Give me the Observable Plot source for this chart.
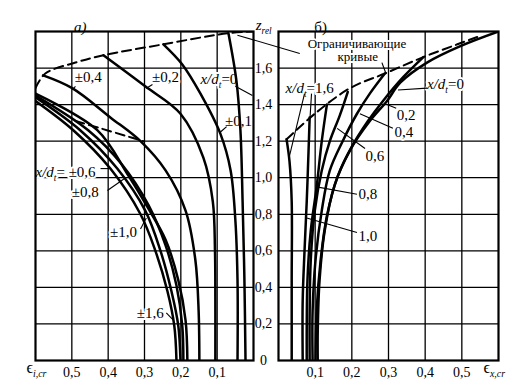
<!DOCTYPE html>
<html><head><meta charset="utf-8">
<script src="https://cdn.jsdelivr.net/npm/d3@7"></script>
<script src="https://cdn.jsdelivr.net/npm/@observablehq/plot@0.6"></script>
<style>
body{margin:0;background:#fff;}
#wrap{position:relative;width:513px;height:385px;}
#wrap svg{position:absolute;left:0;top:0;background:transparent !important;}
#wrap svg, #wrap svg text, #wrap svg g{font-family:"Liberation Serif", "DejaVu Serif", serif !important;}
</style></head><body><div id="wrap"></div>
<script>
// ---- axes ----
const zTicks = [0, 0.2, 0.4, 0.6, 0.8, 1.0, 1.2, 1.4, 1.6];
const zGrid = [0.2, 0.4, 0.6, 0.8, 1.0, 1.2, 1.4, 1.6];
const leftTicks = [0.5, 0.4, 0.3, 0.2, 0.1];
const rightTicks = [0.1, 0.2, 0.3, 0.4, 0.5];

// ---- panel а): [eps_i,cr, z_rel] ----
const L_0   = [[0.069,1.79],[0.047,1.53],[0.036,1.26],[0.030,0.87],[0.025,0.44],[0.022,0]];
const L_01  = [[0.248,1.73],[0.196,1.62],[0.146,1.46],[0.091,1.24],[0.063,1.04],[0.050,0.77],[0.044,0.44],[0.044,0]];
const L_02  = [[0.413,1.67],[0.298,1.50],[0.201,1.35],[0.138,1.11],[0.112,0.87],[0.106,0.60],[0.105,0.33],[0.105,0]];
const L_04  = [[0.579,1.56],[0.499,1.49],[0.394,1.33],[0.311,1.20],[0.242,1.04],[0.187,0.82],[0.160,0.55],[0.151,0.27],[0.149,0]];
const L_06  = [[0.600,1.46],[0.430,1.26],[0.347,1.02],[0.292,0.84],[0.242,0.66],[0.207,0.44],[0.187,0.22],[0.182,0]];
const L_08  = [[0.600,1.45],[0.455,1.26],[0.361,1.07],[0.289,0.85],[0.242,0.63],[0.212,0.41],[0.196,0.19],[0.193,0]];
const L_10  = [[0.600,1.44],[0.477,1.26],[0.375,1.05],[0.298,0.82],[0.256,0.60],[0.226,0.38],[0.207,0.19],[0.201,0]];
const L_16  = [[0.600,1.42],[0.496,1.26],[0.394,1.05],[0.311,0.80],[0.270,0.60],[0.237,0.38],[0.218,0.19],[0.212,0]];
const L_limUpper = [[0.600,1.49],[0.573,1.57],[0.490,1.63],[0.413,1.67],[0.248,1.73],[0.072,1.79],[0,1.80]];
const L_limLower = [[0.490,1.31],[0.421,1.27],[0.353,1.23],[0.303,1.20]];

const leftLabelText = ["±0,4","±0,2","x/d_{t}=0","±0,1","x/d_{t}= ±0,6","±0,8","±1,0","±1,6"];
const leftLabelV    = [0.455, 0.242, 0.146, 0.041, 0.600, 0.463, 0.358, 0.284];
const leftLabelZ    = [1.55, 1.55, 1.54, 1.31, 1.03, 0.92, 0.70, 0.26];
const leftLabelAnchor = ["middle","middle","start","middle","start","middle","middle","middle"];
const leftLeaders = [[0.490,1.50,0.499,1.48],[0.278,1.51,0.295,1.49],[0.050,1.50,0.003,1.45],[0.074,1.28,0.091,1.25],
                     [0.421,1.05,0.394,1.05],[0.402,0.93,0.352,1.00],[0.311,0.72,0.295,0.78],[0.240,0.26,0.220,0.22]];

// ---- panel б): [eps_x,cr, z_rel] ----
const R_0  = [[0.600,1.80],[0.496,1.72],[0.405,1.63],[0.332,1.52],[0.296,1.42],[0.249,1.31],[0.195,1.15],[0.153,0.96],[0.126,0.71],[0.112,0.44],[0.107,0.16],[0.107,0]];
const R_02 = [[0.395,1.66],[0.340,1.55],[0.285,1.42],[0.244,1.31],[0.200,1.17],[0.162,1.01],[0.132,0.79],[0.115,0.55],[0.104,0.27],[0.101,0]];
const R_04 = [[0.290,1.57],[0.249,1.46],[0.214,1.35],[0.175,1.20],[0.140,1.04],[0.118,0.82],[0.101,0.55],[0.093,0.27],[0.093,0]];
const R_06 = [[0.189,1.47],[0.167,1.34],[0.140,1.20],[0.118,1.04],[0.099,0.82],[0.088,0.55],[0.085,0.27],[0.085,0]];
const R_08 = [[0.132,1.40],[0.118,1.20],[0.104,0.95],[0.088,0.71],[0.079,0.44],[0.077,0]];
const R_10 = [[0.085,1.33],[0.082,1.15],[0.077,0.87],[0.071,0.60],[0.066,0.33],[0.066,0]];
const R_16 = [[0.022,1.21],[0.030,1.09],[0.036,0.87],[0.036,0.44],[0.036,0]];
const R_lim = [[0.022,1.21],[0.099,1.35],[0.195,1.49],[0.290,1.57],[0.395,1.66],[0.488,1.73],[0.542,1.77]];

const rightLabelText = ["Ограничивающие","кривые","x/d_{t}=1,6","x/d_{t}=0","0,2","0,4","0,6","0,8","1,0"];
const rightLabelV    = [0.214, 0.216, 0.085, 0.405, 0.348, 0.342, 0.263, 0.244, 0.244];
const rightLabelZ    = [1.735, 1.66, 1.49, 1.51, 1.34, 1.25, 1.12, 0.91, 0.68];
const rightLabelAnchor = ["middle","middle","middle","start","middle","middle","middle","middle","middle"];
const rightLabelSize = [13, 13, 15, 15, 15, 15, 15, 15, 15];
const rightLeaders = [[-0.112,1.78,0.058,1.68],[0.282,1.63,0.293,1.57],[0.071,1.46,0.030,1.12],[0.090,1.46,0.086,1.33],
                      [0.405,1.49,0.326,1.48],[0.321,1.38,0.296,1.40],[0.312,1.27,0.222,1.35],[0.236,1.16,0.160,1.27],
                      [0.214,0.91,0.104,0.95],[0.214,0.70,0.077,0.78]];

// ---- build tables ----
const fmt = d => d === 0 ? "0" : d3.format(".1f")(d).replace(".", ",");
const toRows = (series) => series.flatMap(([k, pts]) => pts.map(([v, z]) => ({k, v, z})));
const leftRows = toRows([["0",L_0],["0.1",L_01],["0.2",L_02],["0.4",L_04],["0.6",L_06],["0.8",L_08],["1.0",L_10],["1.6",L_16]]);
const leftDash = toRows([["u",L_limUpper],["l",L_limLower]]);
const rightRows = toRows([["0",R_0],["0.2",R_02],["0.4",R_04],["0.6",R_06],["0.8",R_08],["1.0",R_10],["1.6",R_16]]);
const rightDash = toRows([["u",R_lim]]);
const leftLabels = leftLabelText.map((t,i)=>({t, v:leftLabelV[i], z:leftLabelZ[i], a:leftLabelAnchor[i]}));
const rightLabels = rightLabelText.map((t,i)=>({t, v:rightLabelV[i], z:rightLabelZ[i], a:rightLabelAnchor[i], s:rightLabelSize[i]}));
const linkRows = arr => arr.map(([x1,y1,x2,y2])=>({x1,y1,x2,y2}));

const FONT = "Liberation Serif";
const common = {width:513, height:385, marginTop:31, marginBottom:25,
  y:{domain:[0,1.8], axis:null},
  style:{background:"transparent", fontFamily:FONT, fontSize:"14px", overflow:"visible"}};

function labelMarks(rows, size) {
  return ["start","middle"].map(a => Plot.text(rows.filter(d=>d.a===a), {
    x:"v", y:"z", text:"t", textAnchor:a, fontSize: d => d.s || size, fontFamily:FONT,
    fill:"black", stroke:"white", strokeWidth:4, paintOrder:"stroke"}));
}

const left = Plot.plot({...common, marginLeft:35, marginRight:260,
  x:{domain:[0.6,0], axis:null},
  marks:[
    Plot.ruleX(leftTicks, {stroke:"black", strokeWidth:1.3}),
    Plot.ruleY(zGrid, {stroke:"black", strokeWidth:1.3}),
    ...labelMarks(leftLabels, 15),
    Plot.line(leftRows, {x:"v", y:"z", z:"k", curve:"catmull-rom", stroke:"black", strokeWidth:2.5, clip:true}),
    Plot.line(leftDash, {x:"v", y:"z", z:"k", curve:"catmull-rom", stroke:"black", strokeWidth:2, strokeDasharray:"9,5", clip:true}),
    Plot.link(linkRows(leftLeaders), {x1:"x1", y1:"y1", x2:"x2", y2:"y2", stroke:"black", strokeWidth:1.1}),
    Plot.axisX(leftTicks, {anchor:"bottom", tickSize:0, tickPadding:7, tickFormat:fmt, fontSize:14, fontFamily:FONT}),
    Plot.text(["ϵ_{i,cr}"], {x:0.625, frameAnchor:"bottom", dy:12, textAnchor:"start", fontSize:16, fontFamily:FONT}),
    Plot.text(["а)"], {x:0.477, frameAnchor:"top", dy:-10, fontSize:15, fontStyle:"italic", fontFamily:FONT}),
    Plot.frame({stroke:"black", strokeWidth:2.2})
  ]});

const right = Plot.plot({...common, marginLeft:278, marginRight:15,
  x:{domain:[0,0.6], axis:null},
  marks:[
    Plot.ruleX(rightTicks, {stroke:"black", strokeWidth:1.3}),
    Plot.ruleY(zGrid, {stroke:"black", strokeWidth:1.3}),
    ...labelMarks(rightLabels, 15),
    Plot.line(rightRows, {x:"v", y:"z", z:"k", curve:"catmull-rom", stroke:"black", strokeWidth:2.5, clip:true}),
    Plot.line(rightDash, {x:"v", y:"z", z:"k", curve:"catmull-rom", stroke:"black", strokeWidth:2, strokeDasharray:"9,5", clip:true}),
    Plot.link(linkRows(rightLeaders), {x1:"x1", y1:"y1", x2:"x2", y2:"y2", stroke:"black", strokeWidth:1.1}),
    Plot.axisX(rightTicks, {anchor:"bottom", tickSize:0, tickPadding:7, tickFormat:fmt, fontSize:14, fontFamily:FONT}),
    Plot.axisY(zTicks, {anchor:"left", tickSize:0, tickPadding:15, textAnchor:"middle", tickFormat:fmt, fontSize:14, fontFamily:FONT}),
    Plot.text(["ϵ_{x,cr}"], {x:0.559, frameAnchor:"bottom", dy:12, textAnchor:"start", fontSize:16, fontFamily:FONT}),
    Plot.text(["z_{rel}"], {x:-0.062, frameAnchor:"top", dy:-12, textAnchor:"start", fontSize:15, fontFamily:FONT}),
    Plot.text(["б)"], {x:0.115, frameAnchor:"top", dy:-10, fontSize:15, fontFamily:FONT}),
    Plot.frame({stroke:"black", strokeWidth:2.2})
  ]});

function applySub(svg) {
  d3.select(svg).selectAll("text").each(function() {
    const s = this.textContent;
    const m = s.match(/^(.*?)_\{(.*?)\}(.*)$/);
    if (!m) return;
    const sel = d3.select(this);
    sel.text(null);
    const pre = sel.append("tspan").text(m[1]);
    if (!m[1].startsWith("ϵ")) pre.attr("font-style", "italic");
    sel.append("tspan").attr("font-style", "italic").attr("font-size", "0.62em").attr("dy", "4").text(m[2]);
    if (m[3]) sel.append("tspan").attr("dy", "-4").text(m[3]);
  });
}
applySub(left); applySub(right);
const wrap = document.getElementById("wrap");
wrap.appendChild(left); wrap.appendChild(right);
</script></body></html>
